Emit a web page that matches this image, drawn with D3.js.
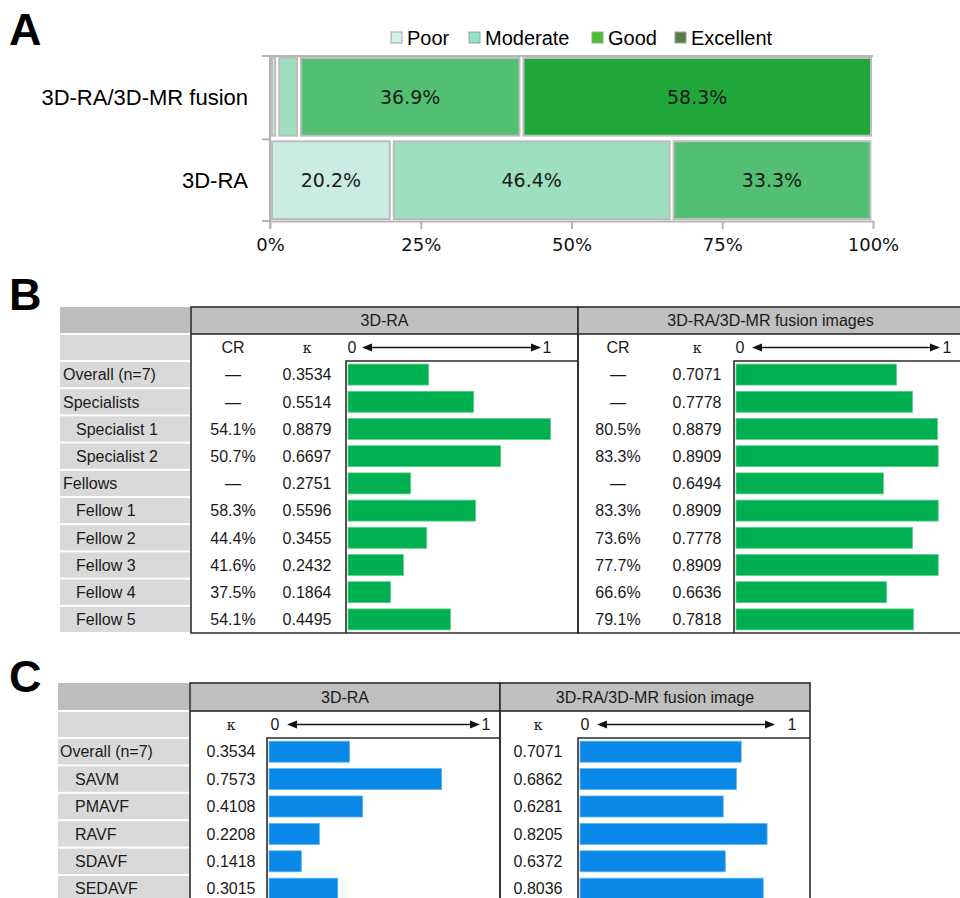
<!DOCTYPE html>
<html>
<head>
<meta charset="utf-8">
<script src="https://cdn.jsdelivr.net/npm/d3@7"></script>
<style>
  body { margin: 0; background: #fff; }
  svg { display: block; font-family: "Liberation Sans", Arial, sans-serif; }
</style>
</head>
<body>
<script>
// Panel A data
const gradeNames = ["Poor", "Moderate", "Good", "Excellent"]
const methodsA = ["3D-RA/3D-MR fusion", "3D-RA"]
const fusionShares = [1.2, 3.6, 36.9, 58.3]
const raShares = [20.2, 46.4, 33.3, 0]
const xTicksA = [0, 25, 50, 75, 100]

// Panel B data
const rowsB = ["Overall (n=7)", "Specialists", "Specialist 1", "Specialist 2", "Fellows",
    "Fellow 1", "Fellow 2", "Fellow 3", "Fellow 4", "Fellow 5"]
const levelsB = [0, 0, 1, 1, 0, 1, 1, 1, 1, 1]
const crRaB = ["—", "—", "54.1%", "50.7%", "—", "58.3%", "44.4%", "41.6%", "37.5%", "54.1%"]
const kappaRaB = [0.3534, 0.5514, 0.8879, 0.6697, 0.2751, 0.5596, 0.3455, 0.2432, 0.1864, 0.4495]
const crFusionB = ["—", "—", "80.5%", "83.3%", "—", "83.3%", "73.6%", "77.7%", "66.6%", "79.1%"]
const kappaFusionB = [0.7071, 0.7778, 0.8879, 0.8909, 0.6494, 0.8909, 0.7778, 0.8909, 0.6636, 0.7818]

// Panel C data
const rowsC = ["Overall (n=7)", "SAVM", "PMAVF", "RAVF", "SDAVF", "SEDAVF"]
const levelsC = [0, 1, 1, 1, 1, 1]
const kappaRaC = [0.3534, 0.7573, 0.4108, 0.2208, 0.1418, 0.3015]
const kappaFusionC = [0.7071, 0.6862, 0.6281, 0.8205, 0.6372, 0.8036]

const barColors = ["#cbece2", "#9ddfbf", "#52bf73", "#21a63b"]
const legendColors = ["#d4f3e8", "#8fe3c8", "#44c12b", "#577d40"]

const svg = d3.select("body").append("svg")
    .attr("width", 960)
    .attr("height", 898)

// Panel letters
svg.selectAll("text.letter")
    .data([["A", 45], ["B", 310], ["C", 692]])
    .enter().append("text")
    .attr("class", "letter")
    .attr("x", 9)
    .attr("y", d => d[1])
    .attr("font-size", 45)
    .attr("font-weight", "bold")
    .text(d => d[0])

// ---------- Panel A ----------
const xA = d3.scaleLinear().domain([0, 100]).range([270, 873])
const yA = d3.scaleBand().domain(methodsA).range([56, 221]).paddingInner(0.02)

const stacks = [fusionShares, raShares].map((vals, i) => {
    let acc = 0
    return vals.map((v, j) => {
        const s = { method: methodsA[i], grade: j, start: acc, end: acc + v, value: v }
        acc += v
        return s
    }).filter(s => s.value > 0)
})

const gA = svg.append("g")

// y axis line and ticks
gA.append("line")
    .attr("x1", xA(0)).attr("x2", xA(0))
    .attr("y1", yA.range()[0]).attr("y2", yA.range()[1] + 8)
    .attr("stroke", "#b5b5b5").attr("stroke-width", 2)
const yTickPos = methodsA.map(m => yA(m)).concat([yA.range()[1]])
gA.selectAll("line.ytick")
    .data(yTickPos)
    .enter().append("line")
    .attr("class", "ytick")
    .attr("x1", xA(0) - 8).attr("x2", xA(0))
    .attr("y1", d => d).attr("y2", d => d)
    .attr("stroke", "#b5b5b5").attr("stroke-width", 2)

// top border line
gA.append("line")
    .attr("x1", xA(0)).attr("x2", xA(100))
    .attr("y1", yA.range()[0]).attr("y2", yA.range()[0])
    .attr("stroke", "#b5b5b5").attr("stroke-width", 2)

// x axis
const xAxisA = d3.axisBottom(xA)
    .tickValues(xTicksA)
    .tickFormat(d => d + "%")
    .tickSize(8)
    .tickSizeOuter(0)
const axA = gA.append("g")
    .attr("transform", `translate(0,${yA.range()[1]})`)
    .call(xAxisA)
axA.selectAll("path, line").attr("stroke", "#b5b5b5").attr("stroke-width", 2)
axA.selectAll("text")
    .attr("font-family", "DejaVu Sans, Verdana, sans-serif")
    .attr("font-size", 18)
    .attr("fill", "#111")
    .attr("dy", "1.05em")

// stacked bars
stacks.forEach(rowSegs => {
    const seg = gA.selectAll(null)
        .data(rowSegs)
        .enter().append("g")
    seg.append("rect")
        .attr("x", d => xA(d.start) + 2)
        .attr("y", d => yA(d.method) + 2)
        .attr("width", d => Math.max(1, xA(d.end) - xA(d.start) - 4))
        .attr("height", yA.bandwidth() - 4)
        .attr("fill", d => barColors[d.grade])
        .attr("stroke", "#bdbdbd")
        .attr("stroke-width", 2)
    seg.filter(d => d.value >= 10).append("text")
        .attr("x", d => (xA(d.start) + xA(d.end)) / 2)
        .attr("y", d => yA(d.method) + yA.bandwidth() / 2)
        .attr("dy", "0.36em")
        .attr("text-anchor", "middle")
        .attr("font-family", "DejaVu Sans, Verdana, sans-serif")
        .attr("font-size", 19)
        .attr("fill", "#1a1a1a")
        .text(d => d.value.toFixed(1) + "%")
})

// category labels
gA.selectAll("text.cat")
    .data(methodsA)
    .enter().append("text")
    .attr("class", "cat")
    .attr("x", 248)
    .attr("y", d => yA(d) + yA.bandwidth() / 2)
    .attr("dy", "0.36em")
    .attr("text-anchor", "end")
    .attr("font-size", 22)
    .text(d => d)

// legend
const legendX = [391, 469, 592, 675]
const leg = gA.selectAll("g.leg")
    .data(gradeNames)
    .enter().append("g")
    .attr("class", "leg")
    .attr("transform", (d, i) => `translate(${legendX[i]},32)`)
leg.append("rect")
    .attr("width", 11).attr("height", 11)
    .attr("fill", (d, i) => legendColors[i])
    .attr("stroke", "#a0a0a0").attr("stroke-width", 1)
leg.append("text")
    .attr("x", 16).attr("y", 12.5)
    .attr("font-size", 20)
    .text(d => d)

// ---------- Tables (B, C) ----------
function drawTable(cfg) {
    const g = svg.append("g")
    const nRows = cfg.rows.length
    const y = d3.scaleBand().domain(d3.range(nRows))
        .range([cfg.bodyTop, cfg.bodyTop + cfg.rowH * nRows])
    const line = "#2b2b2b"

    // label column
    g.append("rect")
        .attr("x", cfg.labelX0).attr("y", cfg.top)
        .attr("width", cfg.labelX1 - cfg.labelX0).attr("height", cfg.headH - 1)
        .attr("fill", "#bdbdbd")
    g.append("rect")
        .attr("x", cfg.labelX0).attr("y", cfg.top + cfg.headH + 1)
        .attr("width", cfg.labelX1 - cfg.labelX0).attr("height", cfg.bodyTop - cfg.top - cfg.headH - 2)
        .attr("fill", "#d9d9d9")
    g.selectAll("rect.lab")
        .data(cfg.rows)
        .enter().append("rect")
        .attr("class", "lab")
        .attr("x", cfg.labelX0)
        .attr("y", (d, i) => y(i) + 1)
        .attr("width", cfg.labelX1 - cfg.labelX0)
        .attr("height", y.bandwidth() - 2)
        .attr("fill", "#d9d9d9")
    g.selectAll("text.lab")
        .data(cfg.rows)
        .enter().append("text")
        .attr("class", "lab")
        .attr("x", (d, i) => cfg.labelX0 + (cfg.levels[i] ? cfg.indent1 : cfg.indent0))
        .attr("y", (d, i) => y(i) + y.bandwidth() / 2)
        .attr("dy", "0.36em")
        .attr("font-size", 16)
        .attr("fill", "#1a1a1a")
        .text(d => d)

    cfg.sections.forEach(s => {
        const xs = d3.scaleLinear().domain([0, 1]).range(s.barRange)
        const bottom = y.range()[1]
        // header
        g.append("rect")
            .attr("x", s.x0).attr("y", cfg.top)
            .attr("width", s.x1 - s.x0).attr("height", cfg.headH)
            .attr("fill", "#c0c0c0")
            .attr("stroke", line).attr("stroke-width", 1.6)
        g.append("text")
            .attr("x", (s.x0 + s.x1) / 2)
            .attr("y", cfg.top + cfg.headH / 2)
            .attr("dy", "0.36em")
            .attr("text-anchor", "middle")
            .attr("font-size", 16)
            .attr("fill", "#1a1a1a")
            .text(s.title)
        // section outline
        g.append("path")
            .attr("d", `M${s.x0},${cfg.top + cfg.headH}V${bottom}H${s.x1}V${cfg.top + cfg.headH}`)
            .attr("fill", "none")
            .attr("stroke", line).attr("stroke-width", 1.6)
        // bar box
        g.append("path")
            .attr("d", `M${s.boxX},${bottom}V${cfg.bodyTop}H${s.x1}`)
            .attr("fill", "none")
            .attr("stroke", line).attr("stroke-width", 1.6)
        // subheader
        const subY = (cfg.top + cfg.headH + cfg.bodyTop) / 2
        if (s.cr) {
            g.append("text")
                .attr("x", s.crX).attr("y", subY).attr("dy", "0.36em")
                .attr("text-anchor", "middle").attr("font-size", 16).attr("fill", "#1a1a1a")
                .text("CR")
        }
        g.append("text")
            .attr("x", s.kX).attr("y", subY).attr("dy", "0.36em")
            .attr("text-anchor", "middle").attr("font-size", 14).attr("fill", "#1a1a1a")
            .attr("font-family", "DejaVu Serif, serif")
            .text("κ")
        g.append("text")
            .attr("x", s.zeroX).attr("y", subY).attr("dy", "0.36em")
            .attr("text-anchor", "middle").attr("font-size", 16).attr("fill", "#1a1a1a")
            .text("0")
        g.append("text")
            .attr("x", s.oneX).attr("y", subY).attr("dy", "0.36em")
            .attr("text-anchor", "middle").attr("font-size", 16).attr("fill", "#1a1a1a")
            .text("1")
        const [a0, a1] = s.arrow
        g.append("line")
            .attr("x1", a0 + 6).attr("x2", a1 - 6)
            .attr("y1", subY).attr("y2", subY)
            .attr("stroke", "#111").attr("stroke-width", 1.3)
        g.append("path")
            .attr("d", `M${a0},${subY}L${a0 + 10},${subY - 4}V${subY + 4}Z M${a1},${subY}L${a1 - 10},${subY - 4}V${subY + 4}Z`)
            .attr("fill", "#111")
        // rows
        if (s.cr) {
            g.selectAll(null)
                .data(s.cr)
                .enter().append("text")
                .attr("x", s.crX)
                .attr("y", (d, i) => y(i) + y.bandwidth() / 2)
                .attr("dy", "0.36em")
                .attr("text-anchor", "middle").attr("font-size", 16).attr("fill", "#1a1a1a")
                .text(d => d)
        }
        g.selectAll(null)
            .data(s.kappa)
            .enter().append("text")
            .attr("x", s.kX)
            .attr("y", (d, i) => y(i) + y.bandwidth() / 2)
            .attr("dy", "0.36em")
            .attr("text-anchor", "middle").attr("font-size", 16).attr("fill", "#1a1a1a")
            .text(d => d.toFixed(4))
        g.selectAll(null)
            .data(s.kappa)
            .enter().append("rect")
            .attr("x", xs(0))
            .attr("y", (d, i) => y(i) + (y.bandwidth() - cfg.barH) / 2)
            .attr("width", d => xs(d) - xs(0))
            .attr("height", cfg.barH)
            .attr("fill", cfg.barColor)
            .attr("stroke", cfg.barEdge).attr("stroke-width", 0.8)
    })
}

drawTable({
    rows: rowsB, levels: levelsB,
    labelX0: 60, labelX1: 190, indent0: 3, indent1: 16,
    top: 307, headH: 27, bodyTop: 361, rowH: 27.2, barH: 21,
    barColor: "#00b050", barEdge: "#5fd08e",
    sections: [
        { title: "3D-RA", x0: 191, x1: 578, cr: crRaB, crX: 233, kappa: kappaRaB, kX: 307,
          boxX: 346, barRange: [348, 576], zeroX: 352, oneX: 547, arrow: [362, 541] },
        { title: "3D-RA/3D-MR fusion images", x0: 578, x1: 963, cr: crFusionB, crX: 618, kappa: kappaFusionB, kX: 697,
          boxX: 734, barRange: [736, 963], zeroX: 740, oneX: 947, arrow: [752, 940] }
    ]
})

drawTable({
    rows: rowsC, levels: levelsC,
    labelX0: 58, labelX1: 189, indent0: 2, indent1: 17,
    top: 683, headH: 28, bodyTop: 738, rowH: 27.4, barH: 21,
    barColor: "#0a88e8", barEdge: "#5fb4f0",
    sections: [
        { title: "3D-RA", x0: 190, x1: 500, kappa: kappaRaC, kX: 231,
          boxX: 267, barRange: [269, 497], zeroX: 275, oneX: 486, arrow: [287, 480] },
        { title: "3D-RA/3D-MR fusion image", x0: 500, x1: 810, kappa: kappaFusionC, kX: 538,
          boxX: 578, barRange: [580, 808], zeroX: 585, oneX: 792, arrow: [597, 775] }
    ]
})
</script>
</body>
</html>
